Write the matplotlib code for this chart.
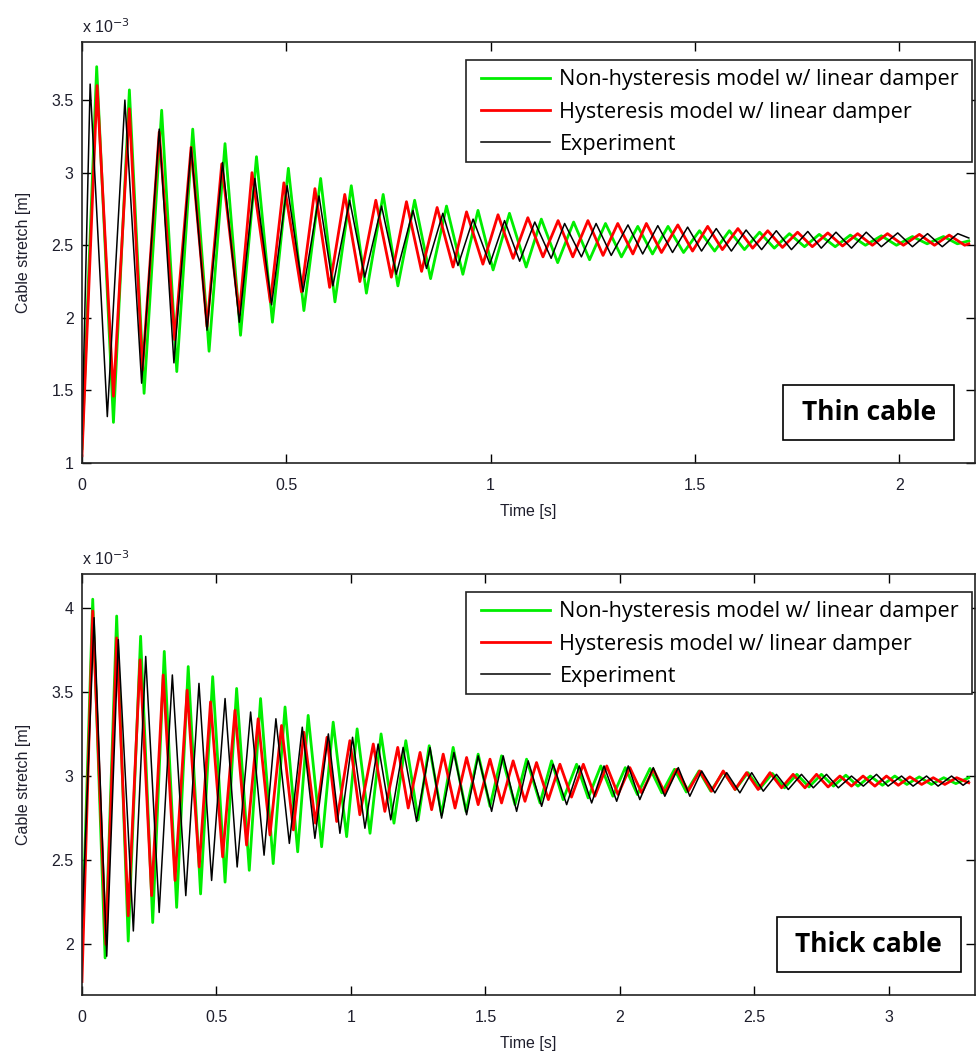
import numpy as np
import matplotlib.pyplot as plt
from matplotlib.patches import Rectangle
from matplotlib.ticker import FormatStrFormatter

# values: time [s], cable stretch [x 1e-3 m]
# curve order everywhere: green (non-hysteresis), red (hysteresis), black (experiment)
labels = ['Non-hysteresis model w/ linear damper',
          'Hysteresis model w/ linear damper',
          'Experiment']
colors = ['#00ee00', '#ff0000', '#000000']

# ---------------- thin cable ----------------
thin_t_end = 2.17
thin_start_v = [1.10, 1.05, 1.20]
thin_end_v = [2.53, 2.51, 2.55]

thin_green_pk_t = [0.036, 0.116, 0.195, 0.271, 0.350, 0.427, 0.505, 0.584, 0.659, 0.737, 0.814, 0.892, 0.969, 1.046,
                   1.124, 1.203, 1.281, 1.360, 1.434, 1.511, 1.584, 1.658, 1.731, 1.804, 1.880, 1.956, 2.032, 2.108]
thin_green_pk_v = [3.73, 3.57, 3.43, 3.30, 3.20, 3.11, 3.03, 2.96, 2.91, 2.85, 2.81, 2.77, 2.74, 2.72,
                   2.68, 2.66, 2.65, 2.63, 2.63, 2.60, 2.60, 2.59, 2.58, 2.575, 2.57, 2.565, 2.56, 2.56]
thin_green_tr_t = [0.077, 0.152, 0.232, 0.311, 0.388, 0.466, 0.543, 0.619, 0.696, 0.773, 0.853, 0.932, 1.006, 1.087,
                   1.164, 1.242, 1.320, 1.396, 1.472, 1.548, 1.621, 1.694, 1.768, 1.843, 1.917, 1.993, 2.068, 2.142]
thin_green_tr_v = [1.28, 1.48, 1.63, 1.77, 1.88, 1.97, 2.05, 2.11, 2.17, 2.22, 2.27, 2.30, 2.33, 2.35,
                   2.38, 2.40, 2.42, 2.44, 2.45, 2.46, 2.47, 2.48, 2.49, 2.49, 2.50, 2.50, 2.51, 2.51]

thin_red_pk_t = [0.037, 0.116, 0.189, 0.267, 0.342, 0.416, 0.494, 0.570, 0.643, 0.719, 0.794, 0.869, 0.941, 1.018, 1.091,
                 1.165, 1.238, 1.311, 1.381, 1.458, 1.531, 1.605, 1.678, 1.751, 1.825, 1.898, 1.971, 2.049, 2.122]
thin_red_pk_v = [3.60, 3.44, 3.28, 3.175, 3.06, 3.00, 2.93, 2.89, 2.85, 2.81, 2.80, 2.76, 2.73, 2.71, 2.69,
                 2.67, 2.67, 2.65, 2.65, 2.64, 2.63, 2.615, 2.60, 2.59, 2.585, 2.58, 2.58, 2.575, 2.57]
thin_red_tr_t = [0.077, 0.148, 0.227, 0.306, 0.385, 0.461, 0.537, 0.606, 0.680, 0.757, 0.831, 0.908, 0.981, 1.055, 1.128,
                 1.201, 1.275, 1.348, 1.418, 1.494, 1.567, 1.641, 1.714, 1.787, 1.861, 1.934, 2.010, 2.086, 2.160]
thin_red_tr_v = [1.46, 1.64, 1.85, 1.94, 2.02, 2.11, 2.18, 2.21, 2.25, 2.28, 2.32, 2.35, 2.37, 2.41, 2.42,
                 2.42, 2.43, 2.44, 2.45, 2.46, 2.47, 2.48, 2.485, 2.49, 2.495, 2.50, 2.50, 2.50, 2.50]

thin_black_pk_t = [0.020, 0.105, 0.189, 0.267, 0.344, 0.423, 0.502, 0.580, 0.655, 0.733, 0.810, 0.883, 0.957, 1.034, 1.108,
                   1.181, 1.258, 1.336, 1.409, 1.482, 1.552, 1.625, 1.699, 1.776, 1.845, 1.919, 1.996, 2.069, 2.143]
thin_black_pk_v = [3.61, 3.50, 3.30, 3.175, 3.07, 2.96, 2.91, 2.84, 2.81, 2.77, 2.74, 2.72, 2.68, 2.67, 2.66,
                   2.65, 2.65, 2.64, 2.635, 2.625, 2.615, 2.605, 2.60, 2.595, 2.59, 2.59, 2.585, 2.58, 2.58]
thin_black_tr_t = [0.062, 0.146, 0.225, 0.306, 0.385, 0.464, 0.541, 0.614, 0.692, 0.769, 0.843, 0.920, 0.998, 1.071,
                   1.148, 1.222, 1.295, 1.372, 1.445, 1.516, 1.589, 1.663, 1.736, 1.809, 1.883, 1.956, 2.032, 2.105]
thin_black_tr_v = [1.32, 1.55, 1.69, 1.915, 1.97, 2.09, 2.18, 2.22, 2.28, 2.30, 2.34, 2.36, 2.37, 2.39,
                   2.41, 2.42, 2.43, 2.44, 2.45, 2.46, 2.46, 2.47, 2.47, 2.48, 2.48, 2.49, 2.49, 2.49]

# ---------------- thick cable ----------------
thick_t_end = 3.297
thick_start_v = [2.00, 1.78, 2.10]
thick_end_v = [2.99, 2.96, 2.97]

thick_green_pk_t = [0.040, 0.129, 0.218, 0.306, 0.395, 0.486, 0.575, 0.664, 0.755, 0.841, 0.934, 1.023, 1.112, 1.204,
                    1.291, 1.380, 1.473, 1.560, 1.653, 1.746, 1.839, 1.929, 2.020, 2.112, 2.203, 2.294, 2.385, 2.476,
                    2.567, 2.658, 2.749, 2.840, 2.931, 3.022, 3.113, 3.204]
thick_green_pk_v = [4.05, 3.95, 3.83, 3.74, 3.65, 3.59, 3.52, 3.46, 3.41, 3.36, 3.32, 3.28, 3.25, 3.21,
                    3.18, 3.17, 3.13, 3.12, 3.10, 3.09, 3.07, 3.06, 3.05, 3.045, 3.04, 3.03, 3.025, 3.02,
                    3.015, 3.01, 3.01, 3.005, 3.00, 3.00, 2.995, 2.99]
thick_green_tr_t = [0.086, 0.172, 0.263, 0.352, 0.441, 0.532, 0.622, 0.711, 0.802, 0.891, 0.984, 1.071, 1.160, 1.250,
                    1.337, 1.428, 1.517, 1.610, 1.703, 1.789, 1.882, 1.974, 2.065, 2.156, 2.247, 2.338, 2.429, 2.520,
                    2.612, 2.703, 2.794, 2.885, 2.976, 3.067, 3.158, 3.249]
thick_green_tr_v = [1.92, 2.02, 2.13, 2.22, 2.30, 2.37, 2.44, 2.48, 2.55, 2.58, 2.64, 2.66, 2.72, 2.74,
                    2.77, 2.79, 2.82, 2.83, 2.84, 2.86, 2.87, 2.88, 2.89, 2.90, 2.905, 2.91, 2.92, 2.925,
                    2.93, 2.935, 2.94, 2.94, 2.945, 2.95, 2.95, 2.955]

thick_red_pk_t = [0.040, 0.129, 0.216, 0.302, 0.391, 0.478, 0.569, 0.655, 0.742, 0.825, 0.911, 0.996, 1.083, 1.174,
                  1.257, 1.343, 1.430, 1.517, 1.603, 1.690, 1.777, 1.864, 1.951, 2.037, 2.124, 2.211, 2.297, 2.384,
                  2.471, 2.558, 2.644, 2.731, 2.818, 2.904, 2.991, 3.078, 3.165, 3.252]
thick_red_pk_v = [3.98, 3.82, 3.69, 3.60, 3.51, 3.44, 3.39, 3.34, 3.30, 3.26, 3.23, 3.21, 3.19, 3.17,
                  3.14, 3.13, 3.11, 3.10, 3.09, 3.08, 3.07, 3.07, 3.06, 3.05, 3.04, 3.04, 3.03, 3.03,
                  3.02, 3.02, 3.01, 3.01, 3.00, 3.00, 3.00, 2.995, 2.99, 2.99]
thick_red_tr_t = [0.089, 0.172, 0.259, 0.346, 0.436, 0.523, 0.612, 0.699, 0.786, 0.868, 0.947, 1.033, 1.126, 1.213,
                  1.300, 1.387, 1.473, 1.560, 1.647, 1.734, 1.820, 1.907, 1.993, 2.081, 2.167, 2.254, 2.341, 2.428,
                  2.514, 2.601, 2.688, 2.774, 2.861, 2.948, 3.035, 3.122, 3.208]
thick_red_tr_v = [2.00, 2.17, 2.29, 2.38, 2.46, 2.52, 2.59, 2.65, 2.68, 2.72, 2.73, 2.77, 2.79, 2.81,
                  2.80, 2.81, 2.83, 2.84, 2.85, 2.86, 2.875, 2.88, 2.89, 2.90, 2.90, 2.91, 2.91, 2.92,
                  2.92, 2.93, 2.93, 2.935, 2.94, 2.94, 2.945, 2.95, 2.95]

thick_black_pk_t = [0.045, 0.135, 0.237, 0.336, 0.435, 0.532, 0.627, 0.721, 0.819, 0.916, 1.006, 1.101, 1.194, 1.294,
                    1.383, 1.473, 1.566, 1.659, 1.752, 1.849, 1.941, 2.031, 2.124, 2.217, 2.304, 2.397, 2.490, 2.582,
                    2.675, 2.768, 2.861, 2.954, 3.047, 3.140, 3.233]
thick_black_pk_v = [3.94, 3.81, 3.71, 3.60, 3.55, 3.46, 3.38, 3.34, 3.29, 3.25, 3.23, 3.19, 3.17, 3.17,
                    3.14, 3.12, 3.12, 3.09, 3.07, 3.06, 3.06, 3.06, 3.05, 3.05, 3.03, 3.02, 3.02, 3.01,
                    3.01, 3.01, 3.00, 3.01, 3.00, 3.00, 3.00]
thick_black_tr_t = [0.092, 0.191, 0.287, 0.386, 0.482, 0.577, 0.677, 0.771, 0.866, 0.959, 1.052, 1.148, 1.244, 1.337,
                    1.430, 1.523, 1.616, 1.709, 1.802, 1.895, 1.988, 2.074, 2.167, 2.260, 2.353, 2.446, 2.533, 2.626,
                    2.719, 2.812, 2.905, 2.997, 3.090, 3.183, 3.276]
thick_black_tr_v = [1.93, 2.08, 2.19, 2.29, 2.38, 2.46, 2.53, 2.60, 2.63, 2.66, 2.69, 2.74, 2.73, 2.75,
                    2.77, 2.79, 2.79, 2.82, 2.83, 2.84, 2.85, 2.86, 2.88, 2.88, 2.90, 2.90, 2.91, 2.92,
                    2.93, 2.93, 2.94, 2.94, 2.94, 2.94, 2.945]


def build(v0, pk_t, pk_v, tr_t, tr_v, t_end, v_end):
    """joins start, peaks, troughs and end point into one time-ordered trace"""
    t = np.array([0.0] + pk_t + tr_t + [t_end])
    v = np.array([v0] + pk_v + tr_v + [v_end])
    order = np.argsort(t)
    return t[order], v[order]


thin_curves = [
    build(thin_start_v[0], thin_green_pk_t, thin_green_pk_v, thin_green_tr_t, thin_green_tr_v, thin_t_end, thin_end_v[0]),
    build(thin_start_v[1], thin_red_pk_t, thin_red_pk_v, thin_red_tr_t, thin_red_tr_v, thin_t_end, thin_end_v[1]),
    build(thin_start_v[2], thin_black_pk_t, thin_black_pk_v, thin_black_tr_t, thin_black_tr_v, thin_t_end, thin_end_v[2]),
]
thick_curves = [
    build(thick_start_v[0], thick_green_pk_t, thick_green_pk_v, thick_green_tr_t, thick_green_tr_v, thick_t_end, thick_end_v[0]),
    build(thick_start_v[1], thick_red_pk_t, thick_red_pk_v, thick_red_tr_t, thick_red_tr_v, thick_t_end, thick_end_v[1]),
    build(thick_start_v[2], thick_black_pk_t, thick_black_pk_v, thick_black_tr_t, thick_black_tr_v, thick_t_end, thick_end_v[2]),
]

plt.rcParams['font.family'] = ['Liberation Sans', 'DejaVu Sans']
tick_color = '#1e1e2c'

fig = plt.figure(figsize=(9.77, 10.55), dpi=100)
ax_top = fig.add_axes([0.0839, 0.5611, 0.9140, 0.3991])
ax_bot = fig.add_axes([0.0839, 0.0569, 0.9140, 0.3991])

panels = [
    (ax_top, thin_curves, (0, 2.185), (1, 3.9), np.arange(0, 2.01, 0.5), np.arange(1, 3.51, 0.5), 'Thin cable', 0.1915),
    (ax_bot, thick_curves, (0, 3.32), (1.7, 4.2), np.arange(0, 3.01, 0.5), np.arange(2, 4.01, 0.5), 'Thick cable', 0.206),
]

for ax, curves, xlim, ylim, xt, yt, name, box_w in panels:
    lws = [2.0, 2.0, 1.1]
    for (t, v), c, lab, lw in zip(curves, colors, labels, lws):
        ax.plot(t, v, color=c, lw=lw, label=lab, solid_joinstyle='round')
    ax.set_xlim(*xlim)
    ax.set_ylim(*ylim)
    ax.set_xticks(xt)
    ax.set_yticks(yt)
    ax.xaxis.set_major_formatter(FormatStrFormatter('%g'))
    ax.yaxis.set_major_formatter(FormatStrFormatter('%g'))
    ax.tick_params(direction='in', length=6.5, width=1, top=True, right=True,
                   labelsize=11.5, labelcolor=tick_color)
    ax.tick_params(axis='x', pad=11)
    ax.tick_params(axis='y', pad=6)
    for sp in ax.spines.values():
        sp.set_linewidth(1.2)
        sp.set_color('#222222')
    ax.set_xlabel('Time [s]', fontsize=11.5, color=tick_color, labelpad=8)
    ax.set_ylabel('Cable stretch [m]', fontsize=11.5, color=tick_color, labelpad=15)
    ax.text(0.0, 1.015, r'x 10$^{-3}$', transform=ax.transAxes, fontsize=11.5,
            color=tick_color, ha='left', va='bottom')

    # legend: frame drawn by hand so the side and top padding can differ
    ax.add_patch(Rectangle((0.4300, 0.714), 0.5666, 0.243, transform=ax.transAxes,
                           facecolor='white', edgecolor='#222222', lw=1.2, zorder=4))
    leg = ax.legend(loc='upper left', bbox_to_anchor=(0.4468, 0.935), frameon=False,
                    borderpad=0, borderaxespad=0, handlelength=3.2, handletextpad=0.42,
                    labelspacing=0.52, prop={'family': 'Open Sans', 'size': 15.6})
    leg.set_zorder(6)

    # label box in the lower right corner
    box_h = 0.13
    cx, cy = 0.881, 0.12
    ax.add_patch(Rectangle((cx - box_w / 2, cy - box_h / 2), box_w, box_h, transform=ax.transAxes,
                           facecolor='white', edgecolor='black', lw=1.2, zorder=5))
    ax.text(cx, cy, name, transform=ax.transAxes, ha='center', va='center', fontsize=19,
            fontweight='bold', family='Open Sans', zorder=6)

fig.savefig('out.png', dpi=100)
